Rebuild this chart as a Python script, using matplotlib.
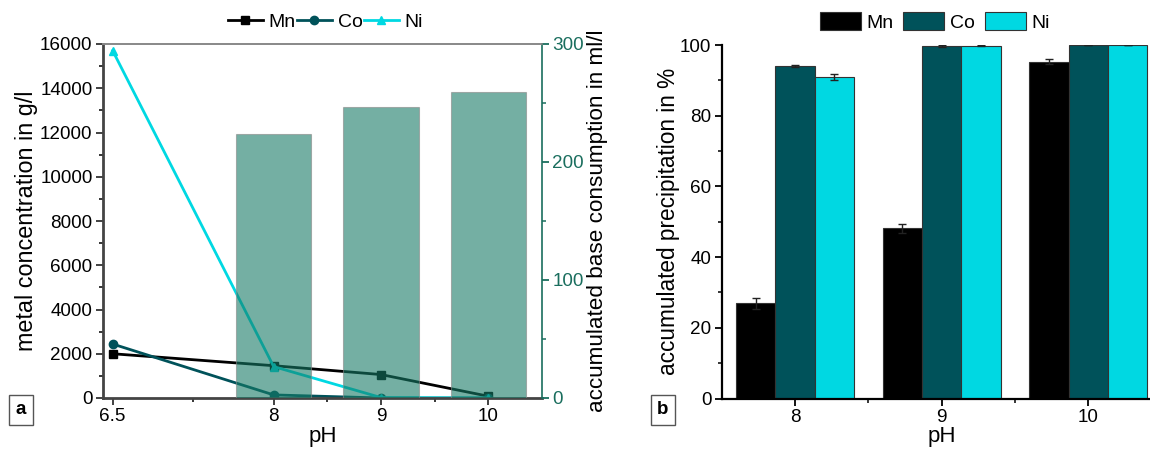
import numpy as np
import matplotlib
matplotlib.use('Agg')
import matplotlib.pyplot as plt
from matplotlib.ticker import FixedLocator, MultipleLocator
from matplotlib.patches import Patch
from matplotlib.lines import Line2D

plt.rcParams['font.family'] = ['Liberation Sans', 'DejaVu Sans']

# --- data (a) ---
ph_a = [6.5, 8, 9, 10]
mn_conc = [2000, 1460, 1060, 80]
co_conc = [2440, 140, 0, 0]
ni_conc = [15700, 1420, 20, 0]
ph_base = [8, 9, 10]
base_cons = [224, 246.5, 259]

# --- data (b) ---
ph_b = [8, 9, 10]
mn_prec = [26.9, 48.1, 95.3]
co_prec = [94.1, 99.7, 100.0]
ni_prec = [91.0, 99.8, 100.0]
mn_err = [1.5, 1.3, 0.75]
co_err = [0.3, 0.3, 0.0]
ni_err = [0.85, 0.1, 0.0]

C_MN = '#000000'
C_CO = '#00525a'
C_NI = '#00d8e2'
C_BASE = '#177b66'
C_RAX = '#1a6e5e'
TICK_FS = 13.6

fig = plt.figure(figsize=(11.5, 4.51), dpi=100)

# ================= panel a =================
ax = fig.add_axes([103/1150, 1-398/451, 439/1150, 354/451])
ax2 = ax.twinx()
ax.set_zorder(1)
ax2.set_zorder(2)
ax2.patch.set_visible(False)

ax.plot(ph_a, mn_conc, color=C_MN, marker='s', ms=6, lw=2)
ax.plot(ph_a, co_conc, color=C_CO, marker='o', ms=6, lw=2)
ax.plot(ph_a, ni_conc, color=C_NI, marker='^', ms=6, lw=2)
ax2.bar(ph_base, base_cons, width=0.7, color=C_BASE, alpha=0.6,
        edgecolor='#888888', linewidth=0.8)

ax.set_xlim(6.41, 10.5)
ax.set_ylim(0, 16000)
ax2.set_ylim(0, 300)
ax.set_xticks(ph_a)
ax.set_xticklabels(['6.5', '8', '9', '10'])
ax.xaxis.set_minor_locator(FixedLocator([7.25, 8.5, 9.5]))
ax.yaxis.set_major_locator(MultipleLocator(2000))
ax.yaxis.set_minor_locator(MultipleLocator(1000))
ax2.yaxis.set_major_locator(MultipleLocator(100))
ax2.yaxis.set_minor_locator(MultipleLocator(50))

for a in (ax, ax2):
    a.tick_params(which='major', direction='out', length=5, width=1.3,
                  labelsize=TICK_FS, pad=2.5)
    a.tick_params(which='minor', direction='out', length=3, width=1.1)
ax.tick_params(colors='#333333', labelcolor='black')
ax2.tick_params(axis='y', which='both', colors=C_RAX, labelcolor=C_RAX)

for s in ('left', 'bottom'):
    ax.spines[s].set_linewidth(2)
    ax.spines[s].set_color('#444444')
ax.spines['top'].set_color('#888888')
ax.spines['top'].set_linewidth(1.2)
ax.spines['right'].set_visible(False)
ax2.spines['right'].set_color(C_RAX)
ax2.spines['right'].set_linewidth(1.2)
ax2.spines['top'].set_color('#888888')
ax2.spines['top'].set_linewidth(1.2)
for s in ('left', 'bottom'):
    ax2.spines[s].set_visible(False)

ax.set_ylabel('metal concentration in g/l', fontsize=16.8)
ax.yaxis.set_label_coords(-0.148, 0.5)
ax2.set_ylabel('accumulated base consumption in ml/l', fontsize=16.2)
ax2.yaxis.set_label_coords(1.102, 0.5)
ax.set_xlabel('pH', fontsize=16)
ax.xaxis.set_label_coords(0.5, -0.078)

h_a = [Line2D([], [], color=C_MN, marker='s', ms=6, lw=2),
       Line2D([], [], color=C_CO, marker='o', ms=6, lw=2),
       Line2D([], [], color=C_NI, marker='^', ms=6, lw=2)]
fig.legend(h_a, ['Mn', 'Co', 'Ni'], loc='center', bbox_to_anchor=(0.283, 0.951),
           ncol=3, frameon=False, fontsize=14, handlelength=1.8,
           handletextpad=0.3, columnspacing=0.05, borderpad=0.2)

# ================= panel b =================
bx = fig.add_axes([721.7/1150, 1-398.5/451, 440/1150, 353.5/451])
x = np.array(ph_b, dtype=float)
w = 0.268
ek = dict(ecolor='#222222', elinewidth=1, capsize=3, capthick=1)
bx.bar(x - w, mn_prec, w, yerr=mn_err, color=C_MN, edgecolor='#333333',
       linewidth=0.8, error_kw=ek, label='Mn')
bx.bar(x, co_prec, w, yerr=co_err, color=C_CO, edgecolor='#333333',
       linewidth=0.8, error_kw=ek, label='Co')
bx.bar(x + w, ni_prec, w, yerr=ni_err, color=C_NI, edgecolor='#333333',
       linewidth=0.8, error_kw=ek, label='Ni')

bx.set_xlim(7.5, 10.5)
bx.set_ylim(0, 100)
bx.set_xticks(ph_b)
bx.set_xticklabels(['8', '9', '10'])
bx.xaxis.set_minor_locator(FixedLocator([8.5, 9.5]))
bx.yaxis.set_major_locator(MultipleLocator(20))
bx.yaxis.set_minor_locator(MultipleLocator(10))
bx.tick_params(which='major', direction='out', length=5, width=1.3,
               labelsize=TICK_FS, pad=2.5)
bx.tick_params(which='minor', direction='out', length=3, width=1.1)
for s in ('top', 'right'):
    bx.spines[s].set_visible(False)
for s in ('left', 'bottom'):
    bx.spines[s].set_linewidth(1.6)
bx.set_ylabel('accumulated precipitation in %', fontsize=16.3)
bx.yaxis.set_label_coords(-0.095, 0.5)
bx.set_xlabel('pH', fontsize=16)
bx.xaxis.set_label_coords(0.5, -0.078)

h_b = [Patch(facecolor=c, edgecolor='#333333', linewidth=0.8) for c in (C_MN, C_CO, C_NI)]
fig.legend(h_b, ['Mn', 'Co', 'Ni'], loc='center', bbox_to_anchor=(0.813, 0.951),
           ncol=3, frameon=False, fontsize=14, handlelength=2.1, handleheight=1.05,
           handletextpad=0.3, columnspacing=0.5, borderpad=0.2)

# panel letters
for xx, lab in ((21/1150, 'a'), (663/1150, 'b')):
    fig.text(xx, 1-410/451, lab, fontsize=13.5, fontweight='bold', ha='center', va='center',
             bbox=dict(boxstyle='square,pad=0.35', facecolor='white', edgecolor='#555555', lw=1))

plt.savefig('out.png', dpi=100)
plt.close()
